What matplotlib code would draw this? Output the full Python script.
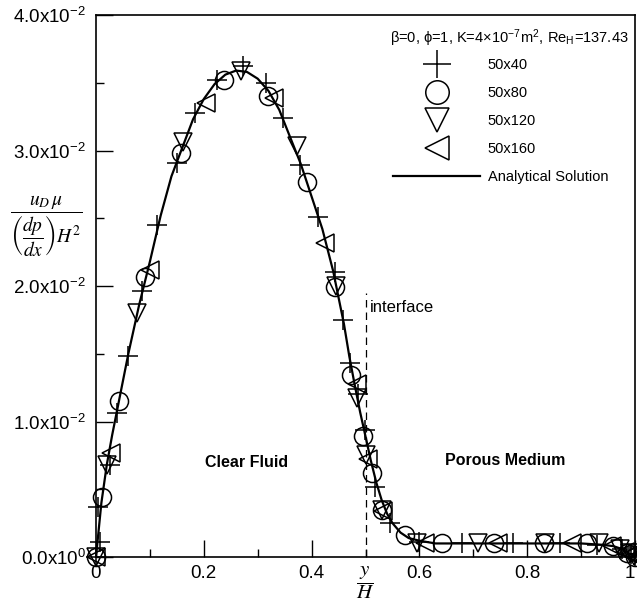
import numpy as np
import matplotlib
matplotlib.use("Agg")
import matplotlib.pyplot as plt
from matplotlib.ticker import FixedLocator
from matplotlib.transforms import ScaledTranslation

plt.rcParams['font.family'] = ['Liberation Sans', 'DejaVu Sans']
plt.rcParams['mathtext.fontset'] = 'stix'

# Soluzione analitica
y_an = [0.000, 0.010, 0.020, 0.030, 0.040, 0.060, 0.080, 0.100, 0.120, 0.140,
        0.160, 0.180, 0.200, 0.220, 0.240, 0.260, 0.280, 0.300, 0.320, 0.340,
        0.360, 0.380, 0.400, 0.420, 0.440, 0.460, 0.470, 0.480, 0.490, 0.500,
        0.510, 0.520, 0.530, 0.540, 0.550, 0.565, 0.580, 0.600, 0.630, 0.700,
        0.800, 0.900, 0.940, 0.960, 0.975, 0.988, 1.000]
u_an = [0.0000, 0.0040, 0.0068, 0.0090, 0.0110, 0.0150, 0.0186, 0.0218, 0.0252, 0.0281,
        0.0302, 0.0323, 0.0338, 0.0349, 0.0356, 0.0359, 0.0358, 0.0353, 0.0344, 0.0330,
        0.0310, 0.0290, 0.0266, 0.0242, 0.0211, 0.0172, 0.0148, 0.0127, 0.0107, 0.0089,
        0.0071, 0.0055, 0.0042, 0.0032, 0.0025, 0.0018, 0.0014, 0.0012, 0.0010, 0.0010,
        0.0010, 0.0010, 0.0009, 0.0008, 0.0006, 0.0003, 0.0000]

# Griglia 50x40
y_40 = [0.000, 0.007, 0.004, 0.026, 0.039, 0.059, 0.085, 0.113, 0.150, 0.184,
        0.224, 0.273, 0.315, 0.347, 0.378, 0.412, 0.443, 0.458, 0.471, 0.486,
        0.499, 0.518, 0.545, 0.600, 0.679, 0.774, 0.860, 0.930, 0.975, 0.992, 1.000]
u_40 = [0.0000, 0.0011, 0.0037, 0.0068, 0.0106, 0.0148, 0.0196, 0.0245, 0.0291, 0.0328,
        0.0352, 0.0362, 0.0350, 0.0324, 0.0289, 0.0251, 0.0210, 0.0175, 0.0143, 0.0120,
        0.0094, 0.0052, 0.0025, 0.0011, 0.0010, 0.0010, 0.0010, 0.0009, 0.0006, 0.0002, 0.0000]

# Griglia 50x80
y_80 = [0.000, 0.011, 0.043, 0.091, 0.158, 0.237, 0.319, 0.391, 0.443, 0.473,
        0.495, 0.512, 0.531, 0.573, 0.642, 0.738, 0.831, 0.911, 0.959, 0.985, 1.000]
u_80 = [0.0000, 0.0044, 0.0115, 0.0207, 0.0298, 0.0352, 0.0340, 0.0277, 0.0199, 0.0134,
        0.0089, 0.0062, 0.0035, 0.0016, 0.0010, 0.0010, 0.0010, 0.0010, 0.0008, 0.0003, 0.0000]

# Griglia 50x120
y_120 = [0.000, 0.020, 0.076, 0.161, 0.269, 0.373, 0.445, 0.484, 0.501, 0.531,
         0.596, 0.709, 0.833, 0.933, 0.972, 0.990, 0.998]
u_120 = [0.0000, 0.0068, 0.0180, 0.0306, 0.0359, 0.0303, 0.0200, 0.0117, 0.0075, 0.0035,
         0.0010, 0.0010, 0.0010, 0.0010, 0.0006, 0.0003, 0.0001]

# Griglia 50x160
y_160 = [0.000, 0.028, 0.100, 0.204, 0.330, 0.425, 0.484, 0.505, 0.532, 0.610,
         0.746, 0.883, 0.957, 0.981, 0.993, 1.000]
u_160 = [0.0000, 0.0077, 0.0212, 0.0335, 0.0339, 0.0232, 0.0128, 0.0072, 0.0034, 0.0010,
         0.0010, 0.0010, 0.0008, 0.0004, 0.0002, 0.0000]

x_ticks = [0, 0.2, 0.4, 0.6, 0.8, 1.0]
x_labels = ['0', '0.2', '0.4', '0.6', '0.8', '1']
y_ticks = [0.0, 0.01, 0.02, 0.03, 0.04]
y_labels = [r'0.0x10$^{\mathregular{0}}$', r'1.0x10$^{\mathregular{-2}}$',
            r'2.0x10$^{\mathregular{-2}}$', r'3.0x10$^{\mathregular{-2}}$',
            r'4.0x10$^{\mathregular{-2}}$']

fig = plt.figure(figsize=(6.37, 6.05), dpi=100)
ax = fig.add_axes([96 / 637, 48 / 605, 539 / 637, 542 / 605])

mk = dict(color='k', linestyle='none', markersize=13, markeredgewidth=1.1,
          markerfacecolor='none', clip_on=False, zorder=3)
ax.plot(y_40, u_40, marker='+', label='50x40', **dict(mk, markersize=15))
ax.plot(y_80, u_80, marker='o', label='50x80', **mk)
ax.plot(y_120, u_120, marker='v', label='50x120', **mk)
ax.plot(y_160, u_160, marker='<', label='50x160', **mk)
ax.plot(y_an, u_an, 'k-', lw=1.6, label='Analytical Solution', zorder=4)

# interfaccia fluido / mezzo poroso
ax.plot([0.5, 0.5], [0, 0.0195], color='k', lw=0.9, linestyle=(0, (6, 4)))
ax.text(0.508, 0.01845, 'interface', fontsize=12, va='center', ha='left')
ax.text(0.28, 0.0070, 'Clear Fluid', fontsize=11.5, fontweight='bold', ha='center', va='center')
ax.text(0.759, 0.0071, 'Porous Medium', fontsize=11.5, fontweight='bold', ha='center', va='center')

ax.set_xlim(0, 1)
ax.set_ylim(0, 0.04)
ax.set_xticks(x_ticks)
ax.set_xticklabels(x_labels)
ax.set_yticks(y_ticks)
ax.set_yticklabels(y_labels)
ax.xaxis.set_minor_locator(FixedLocator([0.1, 0.3, 0.5, 0.7, 0.9]))
ax.yaxis.set_minor_locator(FixedLocator([0.005, 0.015, 0.025, 0.035]))
ax.tick_params(which='both', direction='in', width=1.0, labelsize=13.5)
ax.tick_params(which='major', length=12)
ax.tick_params(which='minor', length=6)
ax.tick_params(axis='y', pad=7)
ax.tick_params(axis='x', pad=6)
for s in ax.spines.values():
    s.set_linewidth(1.2)

# l'ultima etichetta "1" sta sul bordo: la sposto un po' a sinistra
last = ax.get_xticklabels()[-1]
last.set_transform(last.get_transform() + ScaledTranslation(-4 / 72, 0, fig.dpi_scale_trans))

ax.text(0.5, -0.048, r'$\dfrac{y}{H}$', transform=ax.transAxes, fontsize=15,
        ha='center', va='center')
ax.text(-0.093, 0.609, r'$\dfrac{u_D\,\mu}{\left(\dfrac{dp}{dx}\right)H^2}$',
        transform=ax.transAxes, fontsize=14, ha='center', va='center')

ax.text(0.766, 0.9576,
        r'β=0, ϕ=1, K=4×10$^{\mathregular{-7}}$m$^{\mathregular{2}}$, Re$_{\mathregular{H}}$=137.43',
        transform=ax.transAxes, fontsize=10.5, ha='center', va='center')
ax.legend(loc='upper left', bbox_to_anchor=(0.54, 0.932), frameon=False,
          fontsize=10.5, handlelength=6.0, handletextpad=0.5,
          labelspacing=0.97, markerscale=1.3, borderaxespad=0)

fig.savefig('out.png', dpi=100)
